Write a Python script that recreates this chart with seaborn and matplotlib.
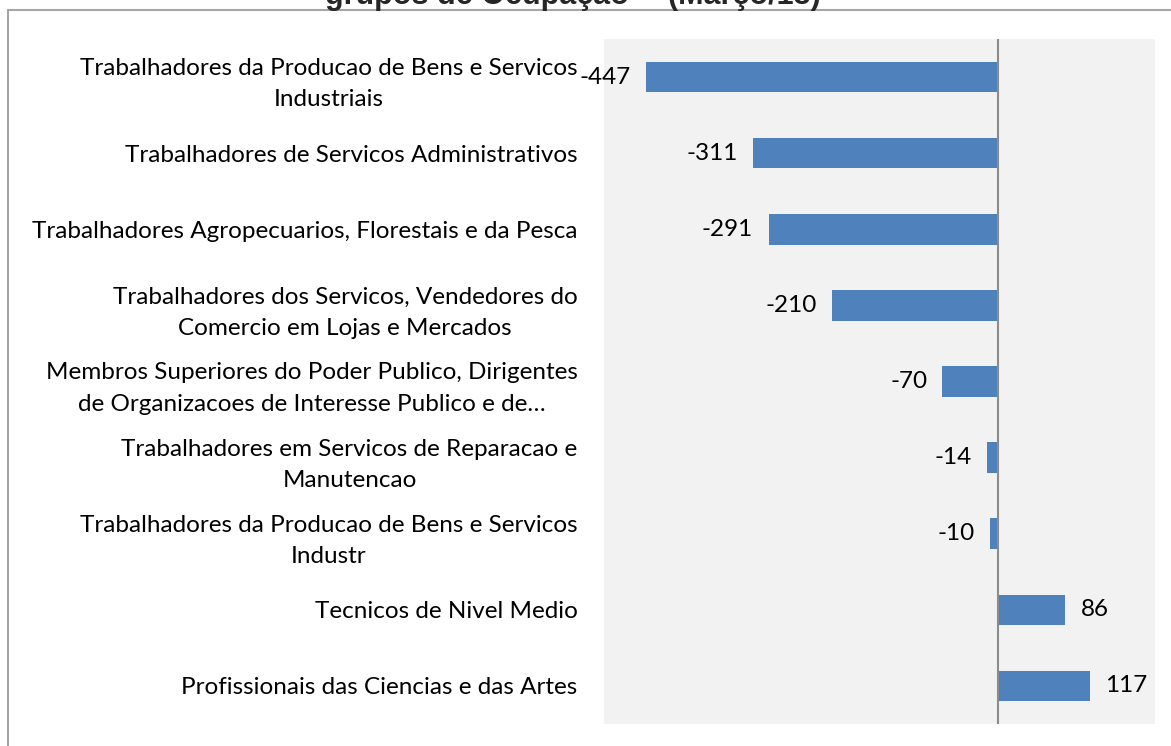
import matplotlib
matplotlib.use("Agg")
import matplotlib.pyplot as plt
from matplotlib.patches import Rectangle
import seaborn as sns
import pandas as pd

categories = [
    "Trabalhadores da Producao de Bens e Servicos\nIndustriais",
    "Trabalhadores de Servicos Administrativos",
    "Trabalhadores Agropecuarios, Florestais e da Pesca",
    "Trabalhadores dos Servicos, Vendedores do\nComercio em Lojas e Mercados",
    "Membros Superiores do Poder Publico, Dirigentes\nde Organizacoes de Interesse Publico e de…",
    "Trabalhadores em Servicos de Reparacao e\nManutencao",
    "Trabalhadores da Producao de Bens e Servicos\nIndustr",
    "Tecnicos de Nivel Medio",
    "Profissionais das Ciencias e das Artes",
]
values = [-447, -311, -291, -210, -70, -14, -10, 86, 117]
title_text = "grupos de Ocupação* - (Março/13)"

df = pd.DataFrame({"cat": categories, "val": values})

sns.set_theme(style="white")
plt.rcParams["font.family"] = ["Lato", "DejaVu Sans"]

W, H = 1171, 746
fig = plt.figure(figsize=(W / 100, H / 100), dpi=100)
ax = fig.add_axes([604 / W, 1 - 724 / H, (1155 - 604) / W, (724 - 39) / H])
ax.set_facecolor("#F2F2F2")

sns.barplot(data=df, y="cat", x="val", orient="h", color="#4F81BD",
            saturation=1, width=0.4, ax=ax, order=categories, linewidth=0)
ax.set_xlim(-500, 200)
ax.set_xlabel("")
ax.set_ylabel("")
ax.set_xticks([])
for s in ax.spines.values():
    s.set_visible(False)
ax.axvline(0, color="#8C8C8C", lw=1.5, zorder=3)

ax.tick_params(axis="y", length=0, pad=19, labelsize=17.5)
for lbl in ax.get_yticklabels():
    lbl.set_multialignment("center")
    lbl.set_linespacing(1.6)
    lbl.set_color("#000000")

for cont in ax.containers:
    ax.bar_label(cont, labels=[str(v) for v in values], padding=11,
                 fontsize=17.5, color="#000000")

fig.text(573 / W, 1 - 4 / H, title_text, ha="center", va="baseline",
         fontsize=22, fontweight="bold", family=["Liberation Sans", "DejaVu Sans"])

fig.add_artist(Rectangle((8 / W, -0.1), 2, 1 - 10 / H + 0.1,
                         transform=fig.transFigure, fill=False,
                         edgecolor="#A6A6A6", lw=1.5))

fig.savefig("out.png", dpi=100)
